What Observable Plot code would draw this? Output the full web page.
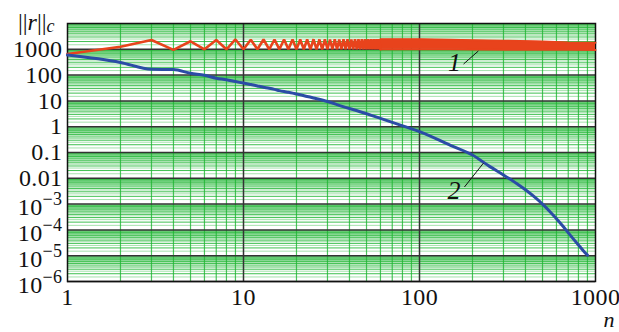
<!DOCTYPE html>
<html>
<head>
<meta charset="utf-8">
<script src="https://cdn.jsdelivr.net/npm/d3@7"></script>
<script src="https://cdn.jsdelivr.net/npm/@observablehq/plot@0.6"></script>
<style>
  html, body { margin: 0; padding: 0; background: #fff; }
  #chart svg { display: block; }
</style>
</head>
<body>
<div id="chart"></div>
<script>
// ---- data ----
// curve 1 (red): individual zigzag for n = 1..60
const redN = d3.range(1, 61);
const redV = [
  660, 1260, 2300, 950, 2050, 1000, 2300, 1000, 2400, 1000,
  2350, 1000, 2400, 1000, 2400, 1000, 2400, 1000, 2400, 1000,
  2400, 1000, 2400, 1000, 2450, 1000, 2400, 1000, 2450, 1000,
  2400, 1000, 2450, 1000, 2400, 1000, 2450, 1000, 2450, 1000,
  2400, 1000, 2450, 1000, 2450, 1000, 2450, 1000, 2450, 1000,
  2450, 1000, 2450, 1000, 2450, 1000, 2450, 1000, 2450, 1000
];
// curve 1 beyond n = 60: dense oscillation band (lower / upper envelope)
const bandN  = [60, 100, 150, 200, 300, 500, 700, 1000];
const bandHi = [2450, 2450, 2350, 2250, 2150, 2000, 1850, 1800];
const bandLo = [1000, 1000, 1000, 980, 970, 960, 950, 940];

// curve 2 (blue)
const blueN = [1, 2, 3, 4, 5, 6, 7, 8, 9, 10, 11, 12, 13, 14, 15, 16, 17, 18, 19, 20,
  25, 30, 36, 46, 60, 78, 100, 150, 200, 250, 300, 350, 400, 450, 500, 550, 600, 650, 700, 750, 800, 850, 900];
const blueV = [600, 310, 168, 165, 117, 98, 76, 66, 56, 49, 43, 38, 34, 31, 28, 25, 23, 21.5, 20, 18.5,
  13, 9.5, 6.3, 3.8, 2.1, 1.15, 0.64, 0.19, 0.08, 0.029, 0.0135, 0.0068, 0.0036, 0.0019, 0.0010,
  5.2e-4, 2.7e-4, 1.45e-4, 7.8e-5, 4.4e-5, 2.6e-5, 1.6e-5, 1.05e-5];

// axis ticks and labels
const xTicks = [1, 10, 100, 1000];
const xTickLabels = ["1", "10", "100", "1000"];
const yTicks = [1e3, 1e2, 1e1, 1, 0.1, 0.01, 1e-3, 1e-4, 1e-5, 1e-6];
const yTickLabels = ["1000", "100", "10", "1", "0.1", "0.01", "10^\u22123", "10^\u22124", "10^\u22125", "10^\u22126"];

// curve labels and leader lines
const curveLabels = [
  {n: 158, v: 308, t: "1"},
  {n: 157, v: 0.00322, t: "2"}
];
const leaders = [
  {n1: 178, v1: 269, n2: 216, v2: 860},
  {n1: 180, v1: 0.0046, n2: 231, v2: 0.039}
];

// ---- build tables ----
const red = redN.map((n, i) => ({n, v: redV[i]}));
const band = bandN.map((n, i) => ({n, lo: bandLo[i], hi: bandHi[i]}));
const blue = blueN.map((n, i) => ({n, v: blueV[i]}));

// log grid tick positions
const decadesY = d3.range(-6, 4);
const minorY = [], halfY = [];
for (const d of decadesY) {
  for (let k = 2; k <= 9; k++) minorY.push(k * 10 ** d);
  for (let k = 1; k <= 9; k++) halfY.push((k + 0.5) * 10 ** d);
}
const minorX = [];
for (const d of [0, 1, 2]) for (let k = 2; k <= 9; k++) minorX.push(k * 10 ** d);

const RED = "#e8431c";
const BLUE = "#2b4ca6";
const GREEN = "#1fb533";
const SERIF = "'Liberation Serif', 'Times New Roman', serif";

const chart = Plot.plot({
  width: 619,
  height: 332,
  marginLeft: 67,
  marginRight: 24,
  marginTop: 23,
  marginBottom: 51,
  x: {type: "log", domain: [1, 1000]},
  y: {type: "log", domain: [1e-6, 1e4]},
  style: {fontFamily: SERIF, fontSize: "24px", background: "#fff", color: "#111"},
  marks: [
    Plot.gridY(halfY, {stroke: GREEN, strokeOpacity: 0.4, strokeWidth: 1}),
    Plot.gridY(minorY, {stroke: GREEN, strokeOpacity: 0.85, strokeWidth: 1}),
    Plot.gridX(minorX, {stroke: GREEN, strokeOpacity: 0.8, strokeWidth: 1.2}),
    Plot.gridX([10, 100], {stroke: "#333", strokeOpacity: 1, strokeWidth: 1.5}),
    Plot.gridY(yTicks, {stroke: "#333", strokeOpacity: 1, strokeWidth: 1.5}),
    Plot.frame({stroke: "#111", strokeWidth: 1.5}),
    Plot.areaY(band, {x: "n", y1: "lo", y2: "hi", fill: RED, curve: "linear"}),
    Plot.lineY(band, {x: "n", y: "hi", stroke: RED, strokeWidth: 2}),
    Plot.lineY(band, {x: "n", y: "lo", stroke: RED, strokeWidth: 2}),
    Plot.line(red, {x: "n", y: "v", stroke: RED, strokeWidth: 2.6, strokeLinejoin: "miter"}),
    Plot.line(blue, {x: "n", y: "v", stroke: BLUE, strokeWidth: 3, curve: "monotone-x"}),
    Plot.link(leaders, {x1: "n1", y1: "v1", x2: "n2", y2: "v2", stroke: "#111", strokeWidth: 1}),
    Plot.text(curveLabels, {x: "n", y: "v", text: "t", fontStyle: "italic", fontSize: 26, fill: "#111"}),
    Plot.axisX({ticks: xTicks, tickSize: 0, tickPadding: 6, label: null, fontSize: 24,
      tickFormat: d => xTickLabels[xTicks.indexOf(d)]}),
    Plot.axisY({ticks: yTicks, tickSize: 0, tickPadding: 5, label: null, fontSize: 24,
      tickFormat: d => yTickLabels[yTicks.indexOf(d)]})
  ]
});

document.getElementById("chart").appendChild(chart);

const svg = d3.select(chart);
// force serif font and size on axis tick labels
svg.selectAll('g[aria-label$="tick label"] text')
  .style("font-family", SERIF)
  .style("font-size", "24px")
  .style("letter-spacing", "0.4px");
svg.selectAll('g[aria-label="text"] text')
  .style("font-family", SERIF);

// rich text: superscripts on tick labels
svg.selectAll("text").each(function () {
  const s = this.textContent;
  if (s.includes("^")) {
    const [base, exp] = s.split("^");
    const t = d3.select(this);
    t.text(null);
    t.append("tspan").attr("dy", "0.15em").text(base);
    t.append("tspan").attr("dy", "-0.55em").style("font-size", "18px").text(exp);
  }
});

// y-axis title ||r||c
const title = svg.append("text")
  .attr("x", 18).attr("y", 30)
  .attr("text-anchor", "start")
  .style("font-family", SERIF)
  .style("font-size", "24px").attr("fill", "#111");
title.append("tspan").text("||");
title.append("tspan").style("font-style", "italic").text("r");
title.append("tspan").text("||");
title.append("tspan").style("font-style", "italic").style("font-size", "18px").attr("dy", 2).text("c");

// x-axis title n
svg.append("text")
  .attr("x", 609).attr("y", 327)
  .attr("text-anchor", "middle")
  .style("font-family", SERIF)
  .style("font-style", "italic")
  .style("font-size", "22px").attr("fill", "#111")
  .text("n");
</script>
</body>
</html>
